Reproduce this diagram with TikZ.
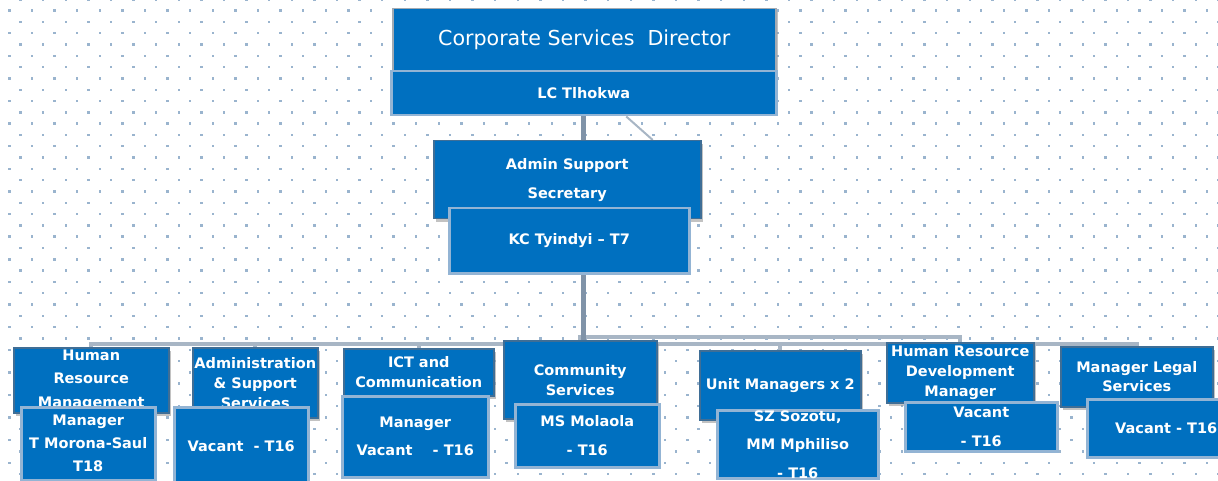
\documentclass[tikz,border=0pt]{standalone}
\usepackage{fontspec}
\setmainfont{DejaVu Sans}
\usetikzlibrary{shadows,backgrounds}
\definecolor{boxblue}{HTML}{0070C0}
\definecolor{upedge}{HTML}{3F6E96}
\definecolor{diredge}{HTML}{A2AAB3}
\definecolor{lowedge}{HTML}{93B4D4}
\definecolor{mainconn}{HTML}{8093A8}
\definecolor{busconn}{HTML}{A8B6C5}
\definecolor{dotc}{HTML}{9AB4CE}
\begin{document}
\begin{tikzpicture}[x=1pt,y=-1pt,
  upbox/.style={fill=boxblue, draw=upedge, line width=1.5pt, anchor=north west, inner sep=0pt, text=white, align=center,
    drop shadow={shadow xshift=2.5pt, shadow yshift=-3pt, fill=black!40, opacity=0.6}},
  lowbox/.style={fill=boxblue, draw=lowedge, line width=2.5pt, anchor=north west, inner sep=0pt, text=white, align=center},
  sm/.style={font=\bfseries\fontsize{14.5}{#1}\selectfont},
  bus/.style={draw=busconn, line width=4pt},
  trunk/.style={draw=mainconn, line width=5pt}
]
\useasboundingbox (0,0) rectangle (1218,481);
\clip (0,0) rectangle (1218,481);

% top
\node[upbox, draw=diredge, minimum width=383pt, minimum height=62pt, font=\fontsize{20.6}{24}\selectfont] (dir) at (392,8) {Corporate Services\ \ Director};
\node[lowbox, minimum width=385pt, minimum height=44pt, sm=18] (lc) at (390,70) {LC Tlhokwa};

\node[upbox, minimum width=267pt, minimum height=78pt, sm=29] (adm) at (433,140) {Admin Support\\Secretary};
\node[lowbox, minimum width=240pt, minimum height=65pt, sm=18] (kc) at (448,207) {KC Tyindyi -- T7};

% bottom row upper boxes
\node[upbox, minimum width=155pt, minimum height=65pt, sm=23.5] (hrm) at (13,347) {Human\\Resource\\Management};
\node[upbox, minimum width=125pt, minimum height=70pt, sm=20] (ass) at (192,347) {Administration\\\& Support\\Services};
\node[upbox, minimum width=150pt, minimum height=47pt, sm=20] (ict) at (343,348) {ICT and\\Communication};
\node[upbox, minimum width=153pt, minimum height=78pt, sm=20] (com) at (503,340) {Community\\Services};
\node[upbox, minimum width=161pt, minimum height=69pt, sm=20] (unit) at (699,350) {Unit Managers x 2};
\node[upbox, minimum width=147pt, minimum height=60pt, sm=20] (hrd) at (886,342) {Human Resource\\Development\\Manager};
\node[upbox, minimum width=152pt, minimum height=60pt, sm=19] (leg) at (1060,346) {Manager Legal\\Services};

% bottom row lower boxes
\node[lowbox, minimum width=134pt, minimum height=73pt, sm=23] (hrmn) at (20,406) {Manager\\T Morona-Saul\\T18};
\node[lowbox, minimum width=134pt, minimum height=78pt, sm=20] (assn) at (173,406) {Vacant\ \ - T16};
\node[lowbox, minimum width=146pt, minimum height=81pt, sm=28] (ictn) at (341,395) {Manager\\Vacant\ \ \ \ - T16};
\node[lowbox, minimum width=144pt, minimum height=63pt, sm=29] (comn) at (514,403) {MS Molaola\\- T16};
\node[lowbox, minimum width=161pt, minimum height=68pt, sm=28.5] (unitn) at (716,409) {SZ Sozotu,\\MM Mphiliso\\- T16};
\node[lowbox, minimum width=152pt, minimum height=49pt, sm=29] (hrdn) at (904,401) {Vacant\\- T16};
\node[lowbox, minimum width=158pt, minimum height=58pt, sm=20] (legn) at (1086,398) {Vacant - T16};

\coordinate (juncA) at (583,344);
\coordinate (juncB) at (583,337);

\begin{scope}[on background layer]
  \foreach \r in {0,...,43} {
    \pgfmathsetmacro\yy{-0.6+\r*11.3}
    \pgfmathsetmacro\xo{ifthenelse(mod(\r,2)==0,-2,9.3)}
    \foreach \c in {0,...,54} {
      \fill[dotc] ({\xo+\c*22.6-1.2},{\yy-1.2}) rectangle ++(2.4,2.4);
    }
  }
  % connectors
  \draw[bus] (juncA) -| (hrm.north);
  \draw[bus] (juncA) -| (ass.north);
  \draw[bus] (juncA) -| (ict.north);
  \draw[bus] (juncA) -| (unit.north);
  \draw[bus] (juncA) -| (leg.north);
  \draw[bus] (juncB) -| (hrd.north);
  \draw[bus] (juncB) -| (com.north);
  \draw[trunk] (lc.south -| juncA) -- (adm.north -| juncA);
  \draw[trunk] (kc.south -| juncA) -- (juncA);
  \draw[draw=busconn, line width=2pt] ([xshift=42.5pt]lc.south) -- ([xshift=85.5pt]adm.north);
\end{scope}
\end{tikzpicture}
\end{document}
